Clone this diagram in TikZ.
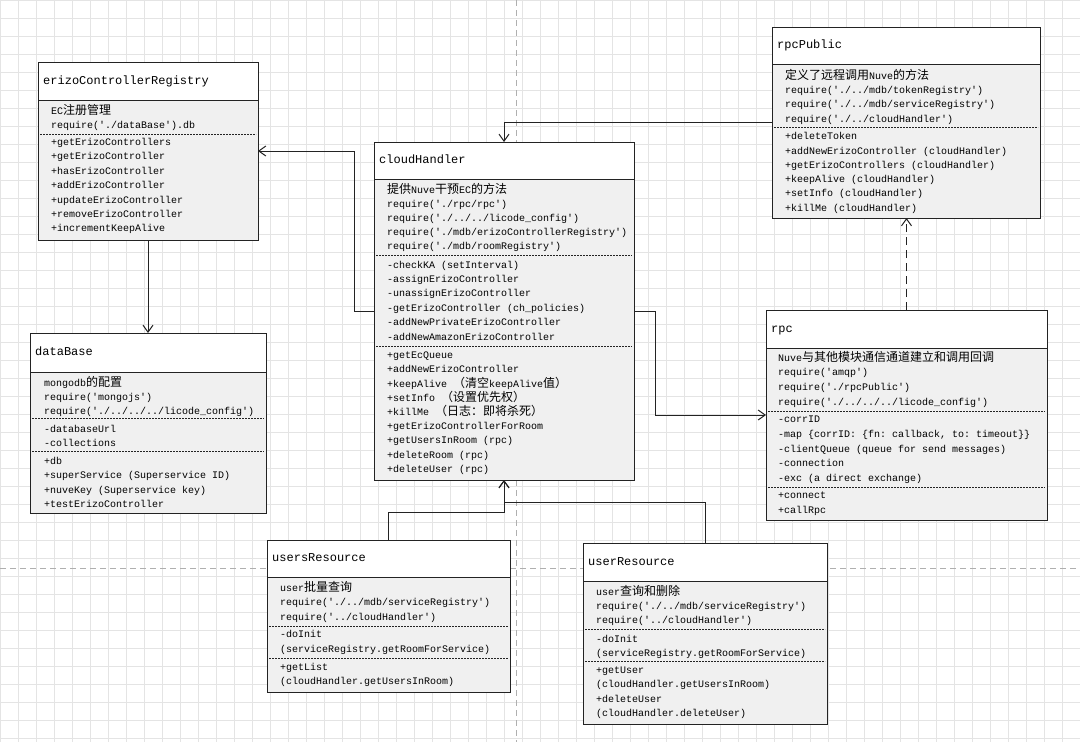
\documentclass[tikz,border=0pt]{standalone}
\usepackage{fontspec}
\setmonofont{Liberation Mono}
\newfontfamily\cjk[Scale=1.2]{Noto Sans CJK SC}
\usetikzlibrary{arrows.meta,calc}
\definecolor{bodyfill}{RGB}{240,240,240}
\definecolor{gridcol}{RGB}{228,228,228}
\definecolor{pagecol}{RGB}{175,175,175}
\definecolor{linecol}{RGB}{35,35,35}
\newcommand\zh[1]{{\cjk #1}}
% name, x, y, w, h, header height, title
\newcommand\umlbox[7]{%
  \fill[bodyfill] (#2,#3) rectangle ++(#4,#5);
  \fill[white] (#2,#3) rectangle ++(#4,#6);
  \draw[hline] (#2,#3+#6) -- (#2+#4,#3+#6);
  \node[titletext, anchor=west] (#1-title) at (#2+5,#3+#6/2) {#7};
  \node[boxframe, minimum width=#4, minimum height=#5, anchor=north west] (#1) at (#2,#3) {};
}
% x, y, w
\newcommand\umldiv[3]{\draw[divline] (#1+2,#2) -- (#1+#3-2,#2);}
% name, x, first baseline, line step, lines
\newcommand\umltext[5]{%
  \node[bodytext, font={\fontsize{10}{#4}\selectfont\ttfamily}, anchor=north west] (#1) at (#2,#3-12) {\rule{0pt}{12pt}#5};
}
\begin{document}
\begin{tikzpicture}[x=1pt,y=-1pt,
  boxframe/.style={draw=linecol, line width=1pt, inner sep=0pt, outer sep=0pt},
  titletext/.style={font=\fontsize{12}{14}\selectfont\ttfamily, inner sep=0pt, text height=8pt, text depth=2pt},
  bodytext/.style={inner sep=0pt, align=left},
  divline/.style={draw=linecol, line width=0.6pt, dash pattern=on 2pt off 1pt},
  hline/.style={draw=linecol, line width=1pt},
  gridline/.style={draw=gridcol, line width=0.5pt},
  pagebreak/.style={draw=pagecol, line width=1pt, dash pattern=on 6pt off 4pt},
  assoc/.style={draw=linecol, line width=1pt, -{Straight Barb[length=7pt,width=10pt]}}]
\useasboundingbox (0,0) rectangle (1080,742);
\fill[white] (0,0) rectangle (1080,742);
\foreach \i in {0,18,...,1080} \draw[gridline] (\i,0) -- (\i,742);
\foreach \j in {0,18,...,742} \draw[gridline] (0,\j) -- (1080,\j);
\draw[pagebreak] (516,0) -- (516,742);
\draw[pagebreak] (0,568) -- (1080,568);

% erizoControllerRegistry
\umlbox{ecr}{38}{62}{220}{178}{38}{erizoControllerRegistry}
\umldiv{38}{134}{220}
\umltext{ecr-a}{51}{114.2}{14.4}{EC\zh{注册管理}\\require('./dataBase').db}
\umltext{ecr-b}{51}{145.2}{14.4}{+getErizoControllers\\+getErizoController\\+hasErizoController\\+addErizoController\\+updateErizoController\\+removeErizoController\\+incrementKeepAlive}

% dataBase
\umlbox{db}{30}{333}{236}{180}{39}{dataBase}
\umldiv{30}{418}{236}
\umldiv{30}{451}{236}
\umltext{db-a}{44}{385.8}{14.2}{mongodb\zh{的配置}\\require('mongojs')\\require('./../../../licode\_config')}
\umltext{db-b}{44}{431.8}{14.2}{-databaseUrl\\-collections}
\umltext{db-c}{44}{464.5}{14.2}{+db\\+superService (Superservice ID)\\+nuveKey (Superservice key)\\+testErizoController}

% cloudHandler
\umlbox{ch}{374}{142}{260}{338}{37}{cloudHandler}
\umldiv{374}{255}{260}
\umldiv{374}{346}{260}
\umltext{ch-a}{387}{192.8}{14.2}{\zh{提供}Nuve\zh{干预}EC\zh{的方法}\\require('./rpc/rpc')\\require('./../../licode\_config')\\require('./mdb/erizoControllerRegistry')\\require('./mdb/roomRegistry')}
\umltext{ch-b}{387}{267.8}{14.4}{-checkKA (setInterval)\\-assignErizoController\\-unassignErizoController\\-getErizoController (ch\_policies)\\-addNewPrivateErizoController\\-addNewAmazonErizoController}
\umltext{ch-c}{387}{358.5}{14.2}{+getEcQueue\\+addNewErizoController\\+keepAlive \zh{（清空}keepAlive\zh{值）}\\+setInfo \zh{（设置优先权）}\\+killMe \zh{（日志：即将杀死）}\\+getErizoControllerForRoom\\+getUsersInRoom (rpc)\\+deleteRoom (rpc)\\+deleteUser (rpc)}

% rpcPublic
\umlbox{rp}{772}{27}{268}{191}{37}{rpcPublic}
\umldiv{772}{127}{268}
\umltext{rp-a}{785}{79.2}{14.2}{\zh{定义了远程调用}Nuve\zh{的方法}\\require('./../mdb/tokenRegistry')\\require('./../mdb/serviceRegistry')\\require('./../cloudHandler')}
\umltext{rp-b}{785}{139.5}{14.3}{+deleteToken\\+addNewErizoController (cloudHandler)\\+getErizoControllers (cloudHandler)\\+keepAlive (cloudHandler)\\+setInfo (cloudHandler)\\+killMe (cloudHandler)}

% rpc
\umlbox{rpc}{766}{310}{281}{210}{38}{rpc}
\umldiv{766}{411}{281}
\umldiv{766}{487}{281}
\umltext{rpc-a}{778}{360.8}{14.7}{Nuve\zh{与其他模块通信通道建立和调用回调}\\require('amqp')\\require('./rpcPublic')\\require('./../../../licode\_config')}
\umltext{rpc-b}{778}{422.5}{14.7}{-corrID\\-map \{corrID: \{fn: callback, to: timeout\}\}\\-clientQueue (queue for send messages)\\-connection\\-exc (a direct exchange)}
\umltext{rpc-c}{778}{498.5}{14.5}{+connect\\+callRpc}

% usersResource
\umlbox{usr}{267}{540}{243}{152}{37}{usersResource}
\umldiv{267}{626}{243}
\umldiv{267}{658}{243}
\umltext{usr-a}{280}{590.8}{14.5}{user\zh{批量查询}\\require('./../mdb/serviceRegistry')\\require('../cloudHandler')}
\umltext{usr-b}{280}{637.5}{14.3}{-doInit\\(serviceRegistry.getRoomForService)}
\umltext{usr-c}{280}{670.2}{14.3}{+getList\\(cloudHandler.getUsersInRoom)}

% userResource
\umlbox{ur}{583}{543}{244}{181}{38}{userResource}
\umldiv{583}{629}{244}
\umldiv{583}{661}{244}
\umltext{ur-a}{596}{595.2}{14.2}{user\zh{查询和删除}\\require('./../mdb/serviceRegistry')\\require('../cloudHandler')}
\umltext{ur-b}{596}{641.8}{14.2}{-doInit\\(serviceRegistry.getRoomForService)}
\umltext{ur-c}{596}{673.5}{14.2}{+getUser\\(cloudHandler.getUsersInRoom)\\+deleteUser\\(cloudHandler.deleteUser)}

% connectors
\draw[assoc] (ch.west) -- ++(-20,0) |- (ecr.east);
\draw[assoc] (ecr.south) -- (db.north);
\draw[assoc] (ch.east) -- ++(21,0) |- (rpc.west);
\draw[assoc] (rp.west) -| (ch.north);
\draw[assoc, dash pattern=on 8pt off 5pt] (rpc.north) -- (rpc.north |- rp.south);
\draw[assoc] (usr.north) -- ++(0,-28) -| (ch.south);
\draw[assoc] (ur.north) -- ++(0,-41) -| (ch.south);
\end{tikzpicture}
\end{document}
